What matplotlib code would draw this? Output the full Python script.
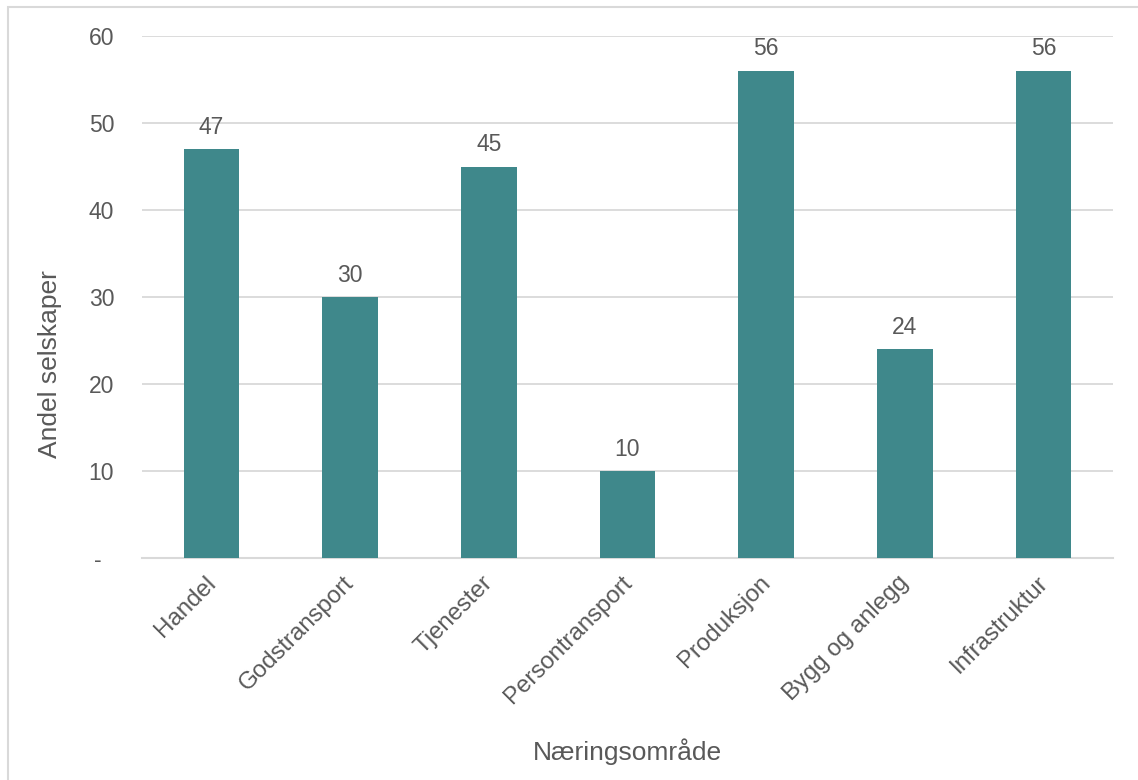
import matplotlib
matplotlib.use("Agg")
import matplotlib.pyplot as plt
import matplotlib.transforms as mtransforms
from matplotlib.patches import Rectangle
from matplotlib.ticker import FuncFormatter

categories = ["Handel", "Godstransport", "Tjenester", "Persontransport",
              "Produksjon", "Bygg og anlegg", "Infrastruktur"]
values = [47, 30, 45, 10, 56, 24, 56]
yticks = [0, 10, 20, 30, 40, 50, 60]

plt.rcParams['font.family'] = ['Liberation Sans', 'DejaVu Sans']

bar_color = '#3F888B'
text_color = '#595959'
grid_color = '#D9D9D9'

W, H = 1138, 780
fig = plt.figure(figsize=(W / 100, H / 100), dpi=100)
fig.patch.set_facecolor('white')

# outer chart frame (open at right and bottom)
frame = Rectangle((8 / W, -0.1), 1.2, (H - 7) / H + 0.1, transform=fig.transFigure,
                  fill=False, edgecolor=grid_color, linewidth=1.5, clip_on=False)
fig.patches.append(frame)

ax = fig.add_axes([142 / W, (H - 558) / H, 971 / W, 522 / H])

x = list(range(len(categories)))
ax.bar(x, values, width=0.4, color=bar_color, zorder=3)

for xi, v in zip(x, values):
    ax.annotate(f"{v}", (xi, v), xytext=(0, 7.5), textcoords='offset points',
                ha='center', va='bottom', fontsize=16.5, color=text_color)

ax.set_xlim(-0.5, len(categories) - 0.5)
ax.set_ylim(0, 60)
ax.set_yticks(yticks)
ax.yaxis.set_major_formatter(FuncFormatter(lambda v, p: "-  " if v == 0 else f"{v:.0f}"))
ax.yaxis.grid(True, color=grid_color, linewidth=1.3, zorder=0)
ax.set_axisbelow(True)

for side in ['top', 'right', 'left']:
    ax.spines[side].set_visible(False)
ax.spines['bottom'].set_color(grid_color)
ax.spines['bottom'].set_linewidth(1.5)

ax.tick_params(axis='y', length=0, pad=20, labelsize=16.5, labelcolor=text_color)
ax.tick_params(axis='x', length=0, pad=10, labelsize=17.3, labelcolor=text_color)

ax.set_xticks(x)
ax.set_xticklabels(categories, rotation=45, ha='right', va='top', rotation_mode='anchor')
shift = mtransforms.ScaledTranslation(-7 / 100, 0, fig.dpi_scale_trans)
for lbl in ax.get_xticklabels():
    lbl.set_transform(lbl.get_transform() + shift)

ax.set_ylabel("Andel selskaper", fontsize=19, color=text_color)
ax.yaxis.set_label_coords((50 - 142) / 971, (558 - 364) / 522)
ax.set_xlabel("Næringsområde", fontsize=19, color=text_color)
ax.xaxis.set_label_coords(0.5, (558 - 752) / 522)
ax.xaxis.label.set_va('center')
ax.yaxis.label.set_va('center')

fig.savefig("out.png", dpi=100, facecolor='white')
